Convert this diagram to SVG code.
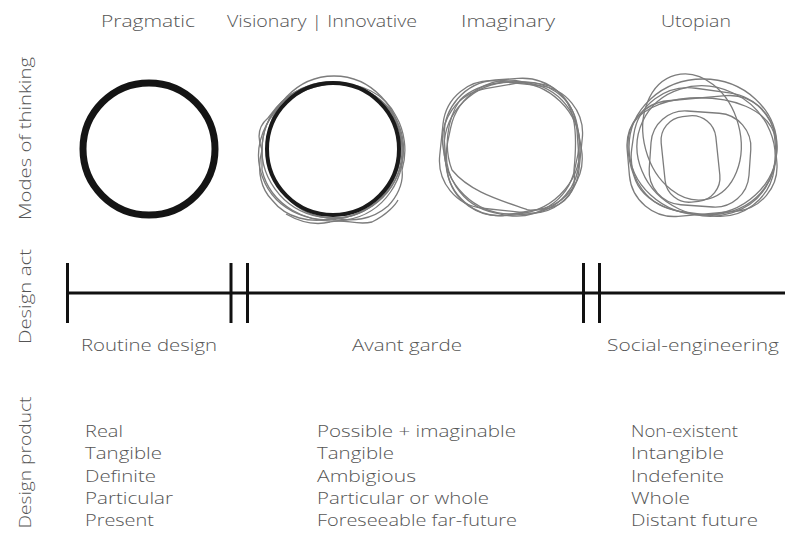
<svg xmlns="http://www.w3.org/2000/svg" width="785" height="540" viewBox="0 0 785 540">
<style>
.t{font-family:"Open Sans","Liberation Sans",sans-serif;font-weight:300;fill:#555;font-size:17px}
.s{fill:none;stroke:#7c7c7c;stroke-width:1.3}
.tl{stroke:#111;stroke-width:3;fill:none}
</style>
<rect width="785" height="540" fill="#fff"/>
<g id="headers">
<text class="t" x="101" y="27" textLength="94" lengthAdjust="spacingAndGlyphs">Pragmatic</text>
<text class="t" x="227" y="27" textLength="190" lengthAdjust="spacingAndGlyphs">Visionary | Innovative</text>
<text class="t" x="461" y="27" textLength="94" lengthAdjust="spacingAndGlyphs">Imaginary</text>
<text class="t" x="661" y="27" textLength="70" lengthAdjust="spacingAndGlyphs">Utopian</text>
</g>
<g id="row-labels">
<text class="t" transform="translate(31,138.5) rotate(-90)" text-anchor="middle" textLength="163" lengthAdjust="spacingAndGlyphs">Modes of thinking</text>
<text class="t" transform="translate(31,296.5) rotate(-90)" text-anchor="middle" textLength="95" lengthAdjust="spacingAndGlyphs">Design act</text>
<text class="t" transform="translate(31,462.5) rotate(-90)" text-anchor="middle" textLength="132" lengthAdjust="spacingAndGlyphs">Design product</text>
</g>
<g id="pragmatic">
<circle cx="149" cy="149" r="66" fill="none" stroke="#141414" stroke-width="7"/>
</g>
<g id="visionary">
<ellipse class="s" cx="332" cy="150" rx="70" ry="68" transform="rotate(10 332 150)"/>
<ellipse class="s" cx="334" cy="147" rx="67" ry="71"/>
<ellipse class="s" cx="331" cy="152" rx="73" ry="67" transform="rotate(-20 331 152)"/>
<path class="s" d="M268 118 C256 128 258 140 262 150 C256 172 262 190 272 200 C286 218 310 224 335 218 C352 222 372 220 388 206 C396 198 404 184 402 170 C408 150 404 130 396 116 C384 92 360 84 340 84 C316 80 290 90 276 108 Z"/>
<path class="s" d="M262 150 C262 112 292 86 328 83 C366 82 396 104 402 140 C408 178 384 214 346 220 C306 226 270 204 262 170 Z"/>
<path class="s" d="M286 214 C300 222 314 226 330 222 C344 218 356 226 372 222 C388 214 396 204 398 200"/>
<circle cx="333" cy="149" r="66" fill="none" stroke="#1a1a1a" stroke-width="4"/>
</g>
<g id="imaginary">
<rect class="s" x="445" y="79" width="133" height="136" rx="55" transform="rotate(-4 512 147)"/>
<rect class="s" x="441" y="83" width="140" height="128" rx="48" transform="rotate(6 512 147)"/>
<rect class="s" x="448" y="81" width="130" height="134" rx="60" transform="rotate(12 512 147)"/>
<rect class="s" x="444" y="85" width="136" height="128" rx="52" transform="rotate(-10 512 147)"/>
<ellipse class="s" cx="512" cy="148" rx="68" ry="66"/>
<path class="s" d="M452 170 C470 192 500 200 528 210 C560 212 578 196 574 170 C578 130 576 100 550 86 C520 78 480 80 460 100 C446 120 444 150 452 170 Z"/>
</g>
<g id="utopian">
<ellipse class="s" cx="703" cy="147" rx="74" ry="68"/>
<rect class="s" x="628" y="98" width="148" height="116" rx="45" transform="rotate(-5 702 156)"/>
<ellipse class="s" cx="692" cy="137" rx="48" ry="64" transform="rotate(-15 692 137)"/>
<rect class="s" x="663" y="116" width="55" height="86" rx="24" transform="rotate(-6 690 159)"/>
<rect class="s" x="650" y="112" width="100" height="94" rx="34" transform="rotate(4 700 159)"/>
<rect class="s" x="632" y="90" width="144" height="124" rx="55" transform="rotate(8 704 152)"/>
<ellipse class="s" cx="706" cy="151" rx="70" ry="64" transform="rotate(25 706 151)"/>
<path class="s" d="M630 130 C636 112 660 100 690 98 C730 96 770 108 776 140 C780 176 760 208 720 214 C680 218 642 204 634 176 C628 160 626 144 630 130 Z"/>
</g>
<g id="connectors">
<line class="tl" x1="67" y1="293" x2="785" y2="293"/>
<line class="tl" x1="67.5" y1="263" x2="67.5" y2="323"/>
<line class="tl" x1="231" y1="263" x2="231" y2="323"/>
<line class="tl" x1="247.5" y1="263" x2="247.5" y2="323"/>
<line class="tl" x1="583.5" y1="263" x2="583.5" y2="323"/>
<line class="tl" x1="599.5" y1="263" x2="599.5" y2="323"/>
</g>
<g id="act-labels">
<text class="t" x="81" y="351" textLength="136" lengthAdjust="spacingAndGlyphs">Routine design</text>
<text class="t" x="352" y="351" textLength="110" lengthAdjust="spacingAndGlyphs">Avant garde</text>
<text class="t" x="607" y="351" textLength="172" lengthAdjust="spacingAndGlyphs">Social-engineering</text>
</g>
<g id="product-col1">
<text class="t" x="85" y="437" textLength="38" lengthAdjust="spacingAndGlyphs">Real</text>
<text class="t" x="85" y="459" textLength="77" lengthAdjust="spacingAndGlyphs">Tangible</text>
<text class="t" x="85" y="481.5" textLength="71" lengthAdjust="spacingAndGlyphs">Definite</text>
<text class="t" x="85" y="504" textLength="88" lengthAdjust="spacingAndGlyphs">Particular</text>
<text class="t" x="85" y="526" textLength="69" lengthAdjust="spacingAndGlyphs">Present</text>
</g>
<g id="product-col2">
<text class="t" x="317" y="437" textLength="199" lengthAdjust="spacingAndGlyphs">Possible + imaginable</text>
<text class="t" x="317" y="459" textLength="77" lengthAdjust="spacingAndGlyphs">Tangible</text>
<text class="t" x="317" y="481.5" textLength="99" lengthAdjust="spacingAndGlyphs">Ambigious</text>
<text class="t" x="317" y="504" textLength="172" lengthAdjust="spacingAndGlyphs">Particular or whole</text>
<text class="t" x="317" y="526" textLength="200" lengthAdjust="spacingAndGlyphs">Foreseeable far-future</text>
</g>
<g id="product-col3">
<text class="t" x="631" y="437" textLength="107" lengthAdjust="spacingAndGlyphs">Non-existent</text>
<text class="t" x="631" y="459" textLength="93" lengthAdjust="spacingAndGlyphs">Intangible</text>
<text class="t" x="631" y="481.5" textLength="93" lengthAdjust="spacingAndGlyphs">Indefenite</text>
<text class="t" x="631" y="504" textLength="59" lengthAdjust="spacingAndGlyphs">Whole</text>
<text class="t" x="631" y="526" textLength="127" lengthAdjust="spacingAndGlyphs">Distant future</text>
</g>
</svg>
